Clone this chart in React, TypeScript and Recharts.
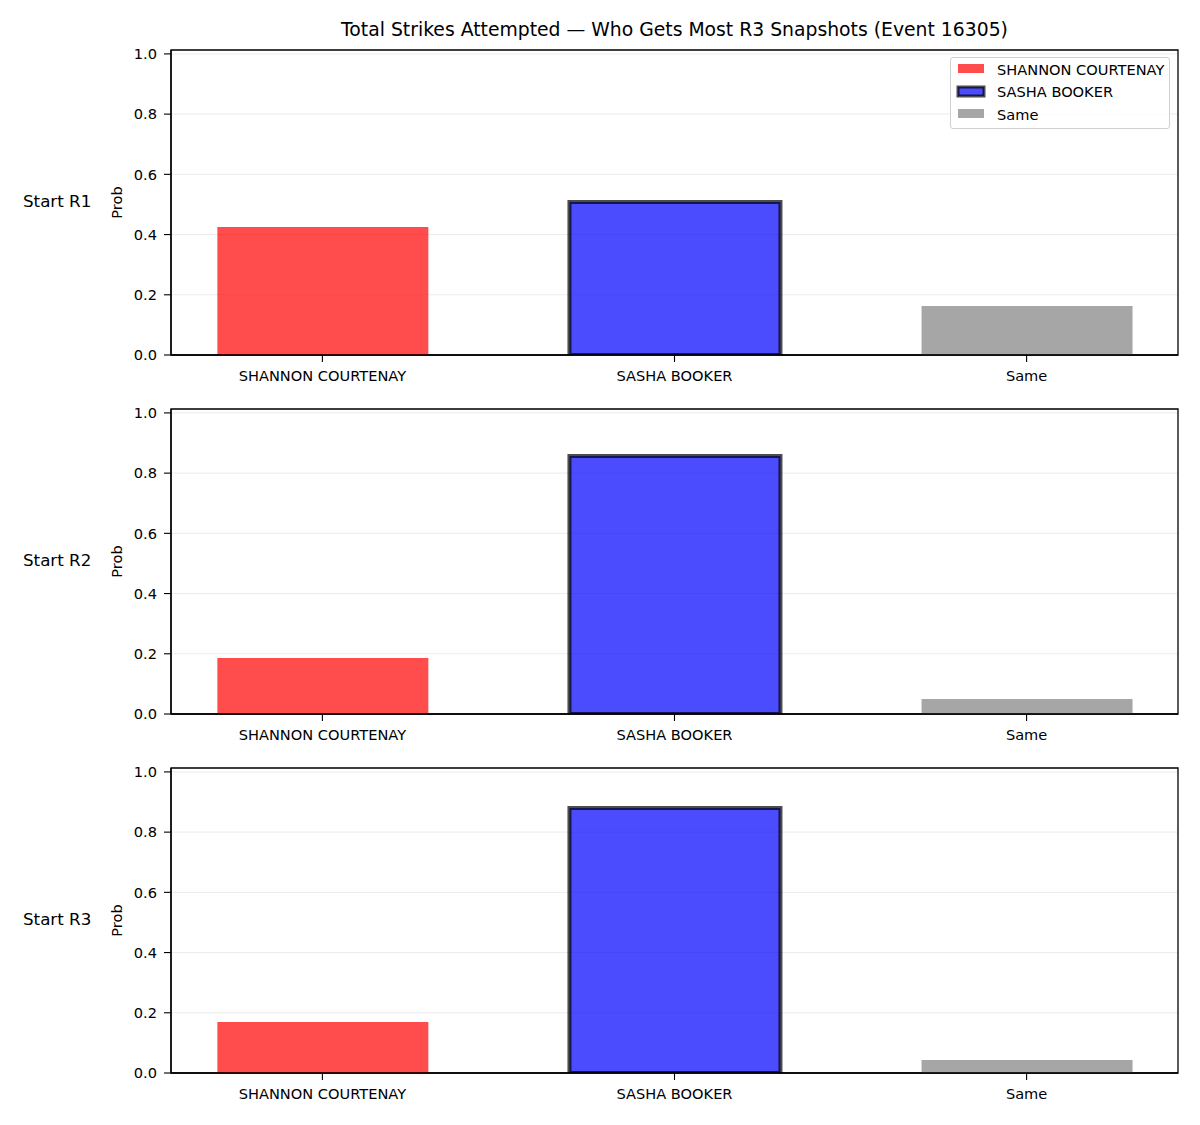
import { BarChart, Bar, Cell, XAxis, YAxis, CartesianGrid, ReferenceArea } from 'recharts';

const categories = ['SHANNON COURTENAY', 'SASHA BOOKER', 'Same'];
const rowLabels = ['Start R1', 'Start R2', 'Start R3'];
const startR1 = [0.425, 0.508, 0.163];
const startR2 = [0.186, 0.857, 0.05];
const startR3 = [0.169, 0.88, 0.043];
const yTicks = [0, 0.2, 0.4, 0.6, 0.8, 1.0];
const barColors = ['#ff0000', '#0000ff', '#808080'];

const FONT = '"DejaVu Sans", sans-serif';
const TICK_FS = 14.6;
const PANEL_STEP = 359;
const X_DOMAIN: [number, number] = [-0.43, 2.43];
const Y_DOMAIN: [number, number] = [0, 1.013];

function Panel({ values, label, top }: { values: number[]; label: string; top: number }) {
  const data = categories.map((name, i) => ({ x: i, name, value: values[i] }));
  return (
    <div style={{ position: 'absolute', left: 0, top }}>
      <div
        style={{
          position: 'absolute',
          left: 23,
          top: 10 + 152 - 11,
          fontSize: 16.7,
          fontFamily: FONT,
          whiteSpace: 'nowrap',
        }}
      >
        {label}
      </div>
      <BarChart
        width={1200}
        height={359}
        data={data}
        margin={{ top: 10, right: 22, bottom: 0, left: 63 }}
        style={{ fontFamily: FONT }}
      >
        <CartesianGrid vertical={false} stroke="#e6e6e6" strokeWidth={0.8} />
        <XAxis
          dataKey="x"
          type="number"
          domain={X_DOMAIN}
          ticks={[0, 1, 2]}
          interval={0}
          allowDataOverflow
          tickFormatter={(i: number) => categories[i] ?? ''}
          tick={{ fill: '#000', fontSize: TICK_FS }}
          tickSize={7}
          tickMargin={9}
          height={44}
          axisLine={{ stroke: '#000', strokeWidth: 1.3 }}
          tickLine={{ stroke: '#000', strokeWidth: 1.1 }}
        />
        <YAxis
          type="number"
          domain={Y_DOMAIN}
          ticks={yTicks}
          allowDataOverflow
          tickFormatter={(v: number) => v.toFixed(1)}
          tick={{ fill: '#000', fontSize: TICK_FS }}
          tickSize={7}
          tickMargin={7}
          width={108}
          axisLine={{ stroke: '#000', strokeWidth: 1.3 }}
          tickLine={{ stroke: '#000', strokeWidth: 1.1 }}
          label={{ value: 'Prob', angle: -90, position: 'center', fill: '#000', fontSize: TICK_FS }}
        />
        <Bar dataKey="value" barSize={211} isAnimationActive={false}>
          {data.map((d, i) => (
            <Cell
              key={d.name}
              fill={barColors[i]}
              fillOpacity={0.7}
              stroke={i === 1 ? '#000' : 'none'}
              strokeOpacity={0.7}
              strokeWidth={i === 1 ? 4 : 0}
            />
          ))}
        </Bar>
        <ReferenceArea
          x1={X_DOMAIN[0]}
          x2={X_DOMAIN[1]}
          y1={Y_DOMAIN[0]}
          y2={Y_DOMAIN[1]}
          fill="none"
          fillOpacity={0}
          stroke="#000"
          strokeWidth={1.3}
          ifOverflow="visible"
        />
      </BarChart>
    </div>
  );
}

function LegendBox() {
  const items = categories.map((name, i) => ({ name, color: barColors[i], edge: i === 1 }));
  return (
    <div
      style={{
        position: 'absolute',
        left: 950,
        top: 57,
        width: 220,
        height: 72,
        border: '1px solid #d0d0d0',
        borderRadius: 3,
        background: 'rgba(255,255,255,0.8)',
        fontFamily: FONT,
        fontSize: TICK_FS,
        boxSizing: 'border-box',
      }}
    >
      {items.map((it, i) => (
        <div
          key={it.name}
          style={{ position: 'absolute', left: 5, top: 1 + i * 22.5, height: 20, display: 'flex', alignItems: 'center' }}
        >
          <svg width={30} height={14} style={{ marginRight: 11 }}>
            <rect
              x={2}
              y={2}
              width={26}
              height={9}
              fill={it.color}
              fillOpacity={0.7}
              stroke={it.edge ? '#000' : 'none'}
              strokeOpacity={0.7}
              strokeWidth={it.edge ? 3 : 0}
            />
          </svg>
          <span style={{ whiteSpace: 'nowrap' }}>{it.name}</span>
        </div>
      ))}
    </div>
  );
}

export default function App() {
  const rows = [startR1, startR2, startR3];
  return (
    <div style={{ position: 'absolute', left: 0, top: 0, width: 1200, height: 1125, background: '#fff' }}>
      <div
        style={{
          position: 'absolute',
          left: 0,
          width: 1349,
          top: 19,
          textAlign: 'center',
          fontFamily: FONT,
          fontSize: 18.8,
          whiteSpace: 'nowrap',
        }}
      >
        Total Strikes Attempted — Who Gets Most R3 Snapshots (Event 16305)
      </div>
      {rows.map((vals, i) => (
        <Panel key={rowLabels[i]} values={vals} label={rowLabels[i]} top={40 + i * PANEL_STEP} />
      ))}
      <LegendBox />
    </div>
  );
}
